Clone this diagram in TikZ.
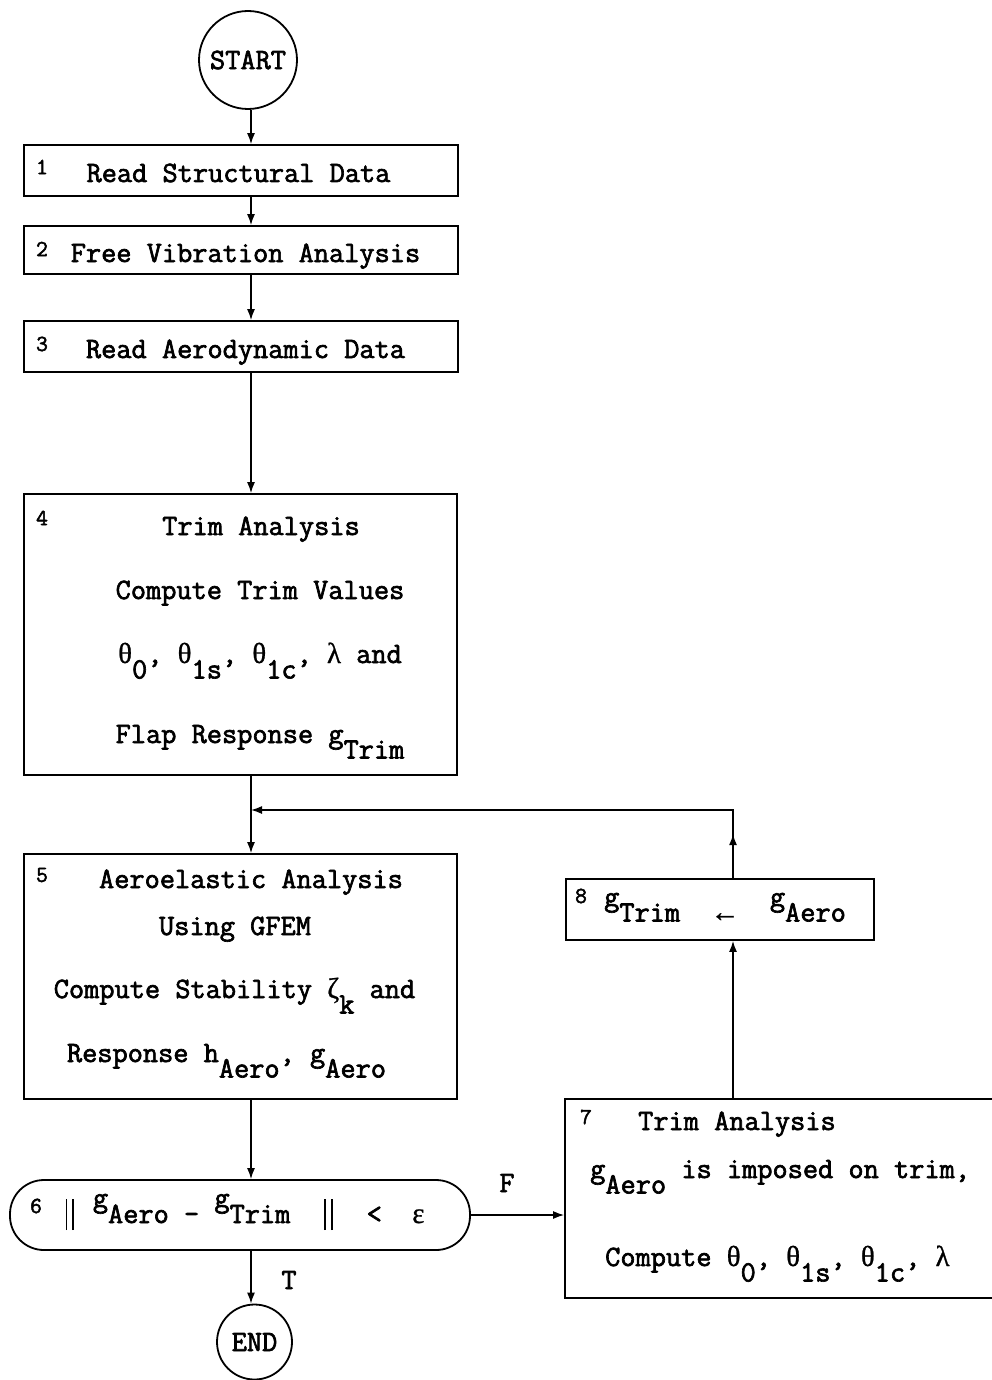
\documentclass[tikz,border=0pt]{standalone}
\usepackage{fontspec}
\newfontfamily\tw[FakeBold=2.2]{Latin Modern Mono}
\newfontfamily\gr[FakeBold=0.8]{Liberation Serif}
\usetikzlibrary{arrows.meta,decorations.markings}

% typewriter-style sub/superscripts: whole characters shifted half a line
\newcommand\lo[1]{\raisebox{-15.5pt}{#1}}
\newcommand\hi[1]{\raisebox{16pt}{#1}}
\newcommand\dbar{\makebox[15.5pt]{\rule[-7pt]{1.8pt}{31pt}\hspace{5pt}\rule[-7pt]{1.8pt}{31pt}}}
% Greek letters of the typewriter element
\newcommand\gk[1]{{\gr\fontsize{29}{34}\selectfont #1}}

\tikzset{
  box/.style={draw, line width=1.8pt, inner sep=0pt},
  term/.style={draw, circle, line width=1.8pt, inner sep=0pt},
  txt/.style={anchor=base, inner sep=0pt},
  ltxt/.style={anchor=base west, inner sep=0pt},
  num/.style={inner sep=0pt, font=\tw\fontsize{23}{26}\selectfont},
  conn/.style={line width=1.4pt, -{Latex[length=11pt,width=8pt]}},
  midarrow/.style={postaction={decorate, decoration={markings,
      mark=at position 44pt with {\arrow{Latex[length=11pt,width=8pt]}}}}}
}

\begin{document}
\begin{tikzpicture}[x=1pt, y=-1pt, font=\tw\fontsize{29.5}{34}\selectfont]
\useasboundingbox (0,0) rectangle (991,1380);
\fill[white] (0,0) rectangle (991,1380);

% main column of the flow
\coordinate (spine) at (251,0);
\coordinate (fb) at (733,810);

\node[term, minimum size=98pt] (start) at (248,60) {START};

\node[box, minimum width=434pt, minimum height=51pt] (b1) at (241,170.5) {};
\node[num] (n1) at (42,167) {1};
\node[txt] (t1) at (238.5,182) {Read Structural Data};

\node[box, minimum width=434pt, minimum height=48pt] (b2) at (241,250) {};
\node[num] (n2) at (42,249) {2};
\node[txt] (t2) at (245.5,262) {Free Vibration Analysis};

\node[box, minimum width=434pt, minimum height=51pt] (b3) at (241,346.5) {};
\node[num] (n3) at (42,344) {3};
\node[txt] (t3) at (245.5,358) {Read Aerodynamic Data};

\node[box, minimum width=433pt, minimum height=281pt] (b4) at (240.5,634.5) {};
\node[num] (n4) at (42,518) {4};
\node[txt] (t4a) at (261,535) {Trim Analysis};
\node[txt] (t4b) at (260,599) {Compute Trim Values};
\node[txt] (t4c) at (260,663) {\gk{θ}\lo{0}, \gk{θ}\lo{1s}, \gk{θ}\lo{1c}, \gk{λ} and};
\node[txt] (t4d) at (260,743) {Flap Response g\lo{Trim}};

\node[box, minimum width=433pt, minimum height=245pt] (b5) at (240.5,976.5) {};
\node[num] (n5) at (42,875) {5};
\node[txt] (t5a) at (251,888) {Aeroelastic Analysis};
\node[txt] (t5b) at (235,935) {Using GFEM};
\node[txt] (t5c) at (234.5,998) {Compute Stability \gk{ζ}\lo{k} and};
\node[txt] (t5d) at (226.5,1062) {Response h\lo{Aero}, g\lo{Aero}};

\node[box, rounded corners=34pt, minimum width=460pt, minimum height=70pt] (b6) at (240,1215) {};
\node[num] (n6) at (36,1206) {6};
\node[ltxt] (t6) at (62,1223) {\dbar~\hi{g}Aero~-~\hi{g}Trim~~\dbar~~<~~\gk{ε}};

\node[term, minimum size=75pt] (end) at (254.5,1342) {END};

\node[box, minimum width=428pt, minimum height=199pt] (b7) at (779,1198.5) {};
\node[num] (n7) at (586,1117) {7};
\node[ltxt] (t7a) at (638,1130) {Trim Analysis};
\node[ltxt] (t7b) at (590,1178) {g\lo{Aero}~is imposed on trim,};
\node[ltxt] (t7c) at (605,1266) {Compute \gk{θ}\lo{0}, \gk{θ}\lo{1s}, \gk{θ}\lo{1c}, \gk{λ}};

\node[box, minimum width=308pt, minimum height=61pt] (b8) at (720,909.5) {};
\node[num] (n8) at (581,896) {8};
\node[ltxt] (t8) at (604,906) {g\lo{Trim}~~\lo{\gk{←}}~~g\lo{Aero}};

% connectors
\draw[conn] (start.south -| spine) -- (b1.north -| spine);
\draw[conn] (b1.south -| spine) -- (b2.north -| spine);
\draw[conn] (b2.south -| spine) -- (b3.north -| spine);
\draw[conn] (b3.south -| spine) -- (b4.north -| spine);
\draw[conn] (b4.south -| spine) -- (b5.north -| spine);
\draw[conn] (b5.south -| spine) -- (b6.north -| spine);
\draw[conn] (b6.south -| spine) -- (end.north -| spine);
\draw[conn] (b6.east) -- (b7.west |- b6.east);
\draw[conn] (b7.north -| fb) -- (b8.south -| fb);
\draw[conn, midarrow] (b8.north -| fb) -- (fb) -- (fb -| spine);

\node[inner sep=0pt] (lf) at (507,1183) {F};
\node[inner sep=0pt] (lt) at (289,1280) {T};
\end{tikzpicture}
\end{document}
